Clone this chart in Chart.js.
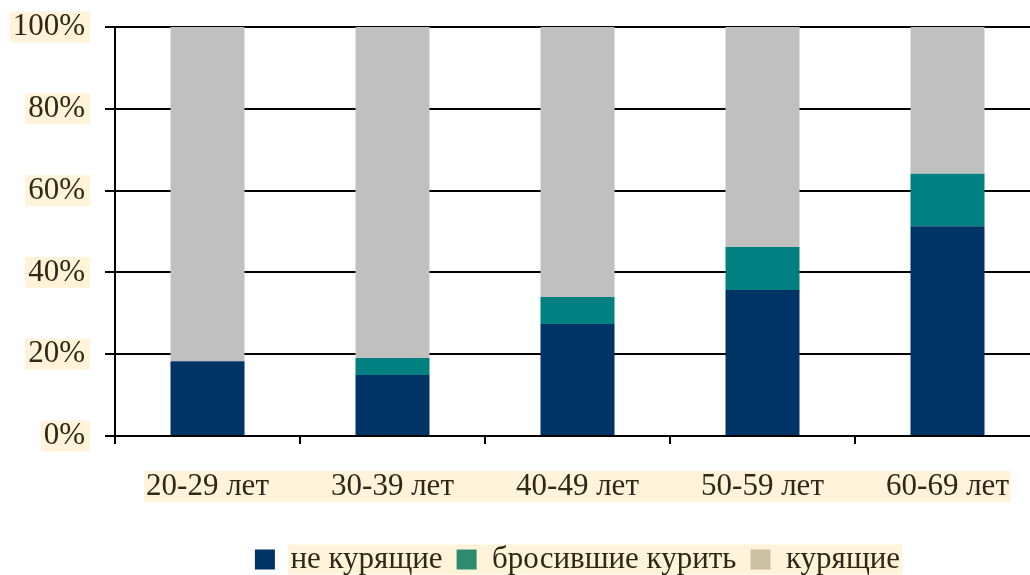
<!DOCTYPE html>
<html>
<head>
<meta charset="utf-8">
<script src="https://cdn.jsdelivr.net/npm/chart.js@4"></script>
<style>
html,body{margin:0;padding:0;background:#fff;overflow:hidden;width:1030px;height:575px;}
canvas{display:block;}
</style>
</head>
<body>
<canvas id="c" width="1042" height="585"></canvas>
<script>
const categories = ['20-29 лет', '30-39 лет', '40-49 лет', '50-59 лет', '60-69 лет'];
const seriesNames = ['не курящие', 'бросившие курить', 'курящие'];
const nonSmokers = [18.3, 14.9, 27.4, 35.7, 51.3];
const quitSmoking = [0, 4.2, 6.6, 10.5, 12.8];
const smokers = [81.7, 80.9, 66.0, 53.8, 35.9];
const yTicks = [0, 20, 40, 60, 80, 100];

const barColors = ['#003366', '#008080', '#C0C0C0'];
const legendColors = ['#003366', '#2E8B6F', '#CBC0A3'];
const cream = '#FFF3D9';
const textColor = '#2F2817';
const fontFamily = "'Liberation Serif', 'Times New Roman', serif";
const fontSize = 31;

const backdrops = {
  id: 'backdrops',
  beforeDraw(chart) {
    const ctx = chart.ctx;
    ctx.save();
    ctx.fillStyle = cream;
    ctx.font = fontSize + 'px ' + fontFamily;
    // continuous strip behind the category labels
    const xs = chart.scales.x;
    const n = categories.length;
    const w0 = ctx.measureText(categories[0]).width;
    const wN = ctx.measureText(categories[n - 1]).width;
    const left = xs.getPixelForTick(0) - w0 / 2 - 2;
    const right = xs.getPixelForTick(n - 1) + wN / 2 + 2;
    const top = xs.top + xs.options.grid.tickLength + xs.options.ticks.padding;
    ctx.fillRect(left, top, right - left, fontSize);
    // strip behind the legend texts
    const lg = chart.legend;
    if (lg && lg.legendHitBoxes && lg.legendHitBoxes.length) {
      const hb = lg.legendHitBoxes;
      const bw = lg.options.labels.boxWidth;
      const first = hb[0], last = hb[hb.length - 1];
      const cy = first.top + first.height / 2;
      const l = first.left + bw + fontSize / 2 - 2;
      const r = last.left + last.width + 2;
      ctx.fillRect(l, cy - 15, r - l, 30);
    }
    ctx.restore();
  }
};

const data = {
  labels: categories,
  datasets: [
    { label: seriesNames[0], data: nonSmokers, backgroundColor: barColors[0] },
    { label: seriesNames[1], data: quitSmoking, backgroundColor: barColors[1] },
    { label: seriesNames[2], data: smokers, backgroundColor: barColors[2] }
  ]
};

new Chart(document.getElementById('c'), {
  type: 'bar',
  data,
  plugins: [backdrops],
  options: {
    responsive: false,
    animation: false,
    devicePixelRatio: 1,
    layout: { padding: { left: 0, right: 2, top: 27, bottom: 0 } },
    datasets: { bar: { categoryPercentage: 1, barPercentage: 0.4, borderWidth: 0 } },
    plugins: {
      tooltip: { enabled: false },
      legend: {
        position: 'bottom',
        fullSize: false,
        labels: {
          color: textColor,
          font: { family: fontFamily, size: fontSize, lineHeight: 1 },
          boxWidth: 20,
          boxHeight: 20,
          padding: 14,
          generateLabels: (chart) => {
            const items = Chart.defaults.plugins.legend.labels.generateLabels(chart);
            items.forEach((it, i) => { it.fillStyle = legendColors[i]; it.strokeStyle = legendColors[i]; it.lineWidth = 0; });
            return items;
          }
        }
      }
    },
    scales: {
      x: {
        stacked: true,
        offset: true,
        afterFit: (scale) => { scale.height = 94; },
        grid: { display: true, drawOnChartArea: false, drawTicks: true, tickLength: 8, color: '#000', lineWidth: 2, offset: true },
        border: { display: true, color: '#000', width: 2 },
        ticks: {
          color: textColor,
          font: { family: fontFamily, size: fontSize, lineHeight: 1 },
          padding: 27,
          maxRotation: 0
        }
      },
      y: {
        stacked: true,
        min: 0,
        max: 100,
        afterFit: (scale) => { scale.width = 115; scale.paddingTop = 0; },
        afterBuildTicks: (scale) => { scale.ticks = yTicks.map(v => ({ value: v })); },
        grid: { color: '#000', lineWidth: 2, tickLength: 10, drawTicks: true },
        border: { display: true, color: '#000', width: 2 },
        ticks: {
          color: textColor,
          font: { family: fontFamily, size: fontSize, lineHeight: 1 },
          padding: 20,
          callback: (v) => v + '%',
          showLabelBackdrop: true,
          backdropColor: cream,
          backdropPadding: { left: 3, right: 5, top: 0, bottom: 0 }
        }
      }
    }
  }
});
</script>
</body>
</html>
